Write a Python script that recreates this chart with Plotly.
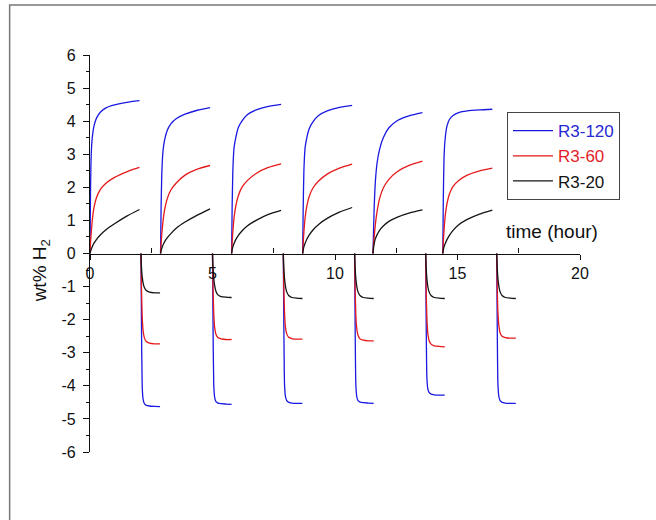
import plotly.graph_objects as go

# ---- data ----
series_names = ["R3-120", "R3-60", "R3-20"]
series_colors = ["rgb(25,25,225)", "rgb(230,25,25)", "rgb(20,20,20)"]
legend_text_colors = ["rgb(40,40,210)", "rgb(225,30,40)", "rgb(20,20,20)"]

# absorption cycles (hour): start times and relative sampling times
abs_start = [0.0, 2.88, 5.78, 8.68, 11.55, 14.40]
abs_rel_t = [0, 0.02, 0.05, 0.10, 0.17, 0.27, 0.42, 0.65, 1.0, 1.5, 2.02]
# desorption cycles
des_start = [2.08, 5.00, 7.89, 10.80, 13.70, 16.60]
des_rel_t = [0, 0.02, 0.05, 0.09, 0.14, 0.22, 0.35, 0.55, 0.78]

r3_120_abs = [
    [0, 1.8, 3.0, 3.55, 3.88, 4.10, 4.27, 4.40, 4.49, 4.57, 4.62],
    [0, 1.3, 2.4, 3.10, 3.45, 3.72, 3.92, 4.08, 4.21, 4.33, 4.41],
    [0, 1.3, 2.5, 3.20, 3.50, 3.80, 4.00, 4.20, 4.34, 4.45, 4.51],
    [0, 1.3, 2.5, 3.20, 3.50, 3.78, 3.98, 4.17, 4.31, 4.42, 4.48],
    [0, 0.6, 1.4, 2.20, 2.75, 3.15, 3.50, 3.80, 4.02, 4.17, 4.26],
    [0, 1.6, 2.9, 3.50, 3.85, 4.05, 4.17, 4.26, 4.31, 4.34, 4.36],
]
r3_60_abs = [
    [0, 0.30, 0.62, 1.05, 1.42, 1.70, 1.93, 2.12, 2.30, 2.47, 2.60],
    [0, 0.28, 0.58, 0.98, 1.34, 1.65, 1.92, 2.14, 2.37, 2.55, 2.66],
    [0, 0.30, 0.65, 1.08, 1.43, 1.74, 2.00, 2.21, 2.42, 2.60, 2.71],
    [0, 0.30, 0.65, 1.08, 1.43, 1.73, 1.98, 2.19, 2.40, 2.58, 2.70],
    [0, 0.25, 0.50, 0.90, 1.28, 1.66, 1.98, 2.24, 2.48, 2.67, 2.79],
    [0, 0.35, 0.70, 1.15, 1.50, 1.80, 2.03, 2.21, 2.37, 2.50, 2.58],
]
r3_20_abs = [
    [0, 0.06, 0.13, 0.22, 0.32, 0.43, 0.56, 0.72, 0.90, 1.13, 1.33],
    [0, 0.08, 0.16, 0.26, 0.36, 0.47, 0.60, 0.77, 0.95, 1.16, 1.35],
    [0, 0.10, 0.20, 0.30, 0.42, 0.54, 0.68, 0.84, 1.00, 1.18, 1.30],
    [0, 0.10, 0.20, 0.31, 0.43, 0.56, 0.71, 0.88, 1.06, 1.25, 1.39],
    [0, 0.15, 0.30, 0.45, 0.57, 0.70, 0.83, 0.97, 1.10, 1.23, 1.32],
    [0, 0.10, 0.20, 0.30, 0.42, 0.55, 0.70, 0.87, 1.03, 1.19, 1.31],
]
r3_120_des = [
    [0, -2.0, -4.00, -4.42, -4.54, -4.59, -4.61, -4.62, -4.63],
    [0, -2.0, -3.95, -4.36, -4.48, -4.52, -4.54, -4.55, -4.56],
    [0, -2.0, -3.95, -4.33, -4.45, -4.50, -4.52, -4.53, -4.53],
    [0, -2.0, -3.95, -4.33, -4.45, -4.49, -4.51, -4.52, -4.53],
    [0, -1.9, -3.75, -4.10, -4.20, -4.25, -4.27, -4.28, -4.28],
    [0, -2.0, -3.95, -4.33, -4.45, -4.50, -4.52, -4.53, -4.53],
]
r3_60_des = [
    [0, -1.00, -1.90, -2.35, -2.55, -2.66, -2.71, -2.73, -2.73],
    [0, -1.00, -1.80, -2.25, -2.44, -2.54, -2.58, -2.60, -2.60],
    [0, -1.00, -1.80, -2.24, -2.43, -2.53, -2.57, -2.59, -2.59],
    [0, -1.00, -1.85, -2.28, -2.47, -2.58, -2.62, -2.64, -2.64],
    [0, -1.05, -1.95, -2.42, -2.63, -2.74, -2.79, -2.81, -2.82],
    [0, -0.95, -1.78, -2.20, -2.40, -2.50, -2.54, -2.56, -2.56],
]
r3_20_des = [
    [0, -0.40, -0.70, -0.90, -1.03, -1.12, -1.17, -1.19, -1.19],
    [0, -0.42, -0.75, -0.98, -1.14, -1.25, -1.30, -1.32, -1.33],
    [0, -0.42, -0.76, -1.00, -1.16, -1.27, -1.33, -1.35, -1.36],
    [0, -0.42, -0.76, -1.00, -1.16, -1.27, -1.33, -1.35, -1.36],
    [0, -0.42, -0.76, -1.00, -1.16, -1.27, -1.33, -1.35, -1.36],
    [0, -0.42, -0.76, -1.00, -1.16, -1.27, -1.33, -1.35, -1.36],
]

x_tick_vals = [0, 5, 10, 15, 20]
x_tick_text = ["0", "5", "10", "15", "20"]
y_tick_vals = [6, 5, 4, 3, 2, 1, 0, -1, -2, -3, -4, -5, -6]
y_tick_text = ["6", "5", "4", "3", "2", "1", "0", "-1", "-2", "-3", "-4", "-5", "-6"]

abs_sets = [r3_120_abs, r3_60_abs, r3_20_abs]
des_sets = [r3_120_des, r3_60_des, r3_20_des]

FONT = "Liberation Sans, Arial, sans-serif"

fig = go.Figure()
for name, color, tcol, a_set, d_set in zip(series_names, series_colors,
                                            legend_text_colors, abs_sets, des_sets):
    xs, ys = [], []
    for c in range(len(abs_start)):
        xs += [abs_start[c] + r for r in abs_rel_t] + [None]
        ys += a_set[c] + [None]
        xs += [des_start[c] + r for r in des_rel_t] + [None]
        ys += d_set[c] + [None]
    fig.add_trace(go.Scatter(
        x=xs, y=ys, mode="lines", connectgaps=False,
        line=dict(color=color, width=1.3, shape="spline", smoothing=0.5),
        name=f"<span style='color:{tcol}'>{name}</span>",
    ))

fig.update_layout(
    width=656, height=520,
    margin=dict(l=90, r=76, t=55, b=68),
    paper_bgcolor="white", plot_bgcolor="white",
    font=dict(family=FONT, color="#111"),
    showlegend=True,
    legend=dict(
        x=0.851, y=0.856, xanchor="left", yanchor="top",
        bordercolor="#444", borderwidth=1, bgcolor="white",
        font=dict(size=17, family=FONT),
        tracegroupgap=0, itemwidth=40, entrywidth=82,
    ),
    xaxis=dict(
        range=[0, 20], anchor="free", position=0.5,
        showline=True, linecolor="#111", linewidth=1.3,
        showgrid=False, zeroline=False,
        tickvals=x_tick_vals, ticktext=x_tick_text,
        ticks="outside", ticklen=5, tickwidth=1.3, tickcolor="#111",
        tickfont=dict(size=16, family=FONT),
        minor=dict(tickvals=[2.5, 7.5, 12.5, 17.5], ticks="inside",
                   ticklen=5, tickwidth=1.3, tickcolor="#111"),
    ),
    yaxis=dict(
        range=[-6, 6],
        showline=True, linecolor="#111", linewidth=1.3,
        showgrid=False, zeroline=False,
        tickvals=y_tick_vals, ticktext=y_tick_text,
        ticks="outside", ticklen=6, tickwidth=1.3, tickcolor="#111",
        ticklabelstandoff=4,
        tickfont=dict(size=16, family=FONT),
        minor=dict(dtick=0.5, ticks="outside", ticklen=3,
                   tickwidth=1.2, tickcolor="#111"),
    ),
    annotations=[
        dict(text="time (hour)", x=18.86, y=0.66, xref="x", yref="y",
             showarrow=False, font=dict(size=19, family=FONT, color="#111")),
        dict(text="wt% H<sub>2</sub>", x=-0.100, y=0.455, xref="paper", yref="paper",
             xanchor="center", yanchor="middle",
             textangle=-90, showarrow=False,
             font=dict(size=19, family=FONT, color="#111")),
    ],
    shapes=[
        dict(type="rect", xref="paper", yref="paper",
             x0=-0.164, x1=1.25, y0=-0.25, y1=1.126,
             line=dict(color="#777", width=1.5), fillcolor="rgba(0,0,0,0)",
             layer="below"),
    ],
)

# remove the default page margin so the figure sits at the window's top-left
fig.write_html("out.html", config={"displayModeBar": False},
               post_script="document.body.style.margin='0';")
